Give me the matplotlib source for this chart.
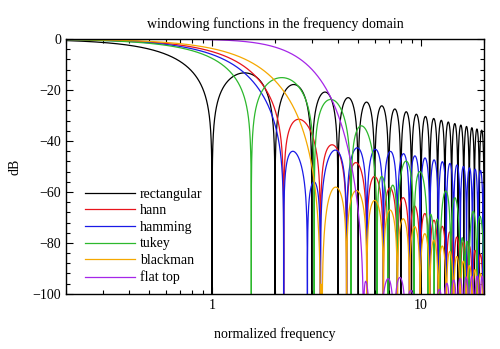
import numpy as np
import matplotlib
matplotlib.use("Agg")
import matplotlib.pyplot as plt
from matplotlib.ticker import MultipleLocator, FixedLocator, FixedFormatter, LogLocator, NullFormatter

plt.rcParams["font.family"] = ["Liberation Serif", "DejaVu Serif"]
plt.rcParams["font.size"] = 10

# windows shown in the chart
names = ["rectangular", "hann", "hamming", "tukey", "blackman", "flat top"]
colors = ["#000000", "#e8141c", "#1a1ae6", "#2db82d", "#f5a800", "#a526e8"]

# cosine-sum coefficients (centred window a0 + a1 cos(2 pi t) + a2 cos(4 pi t) ...)
coef_rect = [1.0]
coef_hann = [0.5, 0.5]
coef_hamming = [0.54, 0.46]
coef_blackman = [0.42, 0.5, 0.08]
coef_flattop = [0.21557895, 0.41663158, 0.277263158, 0.083578947, 0.006947368]
tukey_alpha = 0.5

# frequency stretch of each window
stretch = [1.0, 1.1, 1.1, 1.155, 1.1, 1.06]

freq = np.logspace(np.log10(0.2), np.log10(20), 6000)


def cosine_sum(coefs, f):
    w = coefs[0] * np.sinc(f)
    for k, a in enumerate(coefs[1:], start=1):
        w = w + a / 2 * (np.sinc(f - k) + np.sinc(f + k))
    return w / coefs[0]


def tukey(alpha, f):
    L = 1 - alpha / 2
    T = alpha / 2
    den = 1 - (2 * f * T) ** 2
    near = np.abs(den) < 1e-9
    p = np.where(near, np.pi / 4, np.cos(np.pi * f * T) / np.where(near, 1.0, den))
    return np.sinc(L * f) * p


def to_db(f, w):
    # add the exact zero crossings so the nulls drop off the bottom
    s = np.sign(w)
    idx = np.where(s[:-1] * s[1:] < 0)[0]
    fz = f[idx] - w[idx] * (f[idx + 1] - f[idx]) / (w[idx + 1] - w[idx])
    ff = np.concatenate([f, fz])
    dd = np.concatenate([20 * np.log10(np.abs(w) + 1e-300), np.full(len(fz), -300.0)])
    order = np.argsort(ff)
    return ff[order], dd[order]


responses = [
    cosine_sum(coef_rect, freq / stretch[0]),
    cosine_sum(coef_hann, freq / stretch[1]),
    cosine_sum(coef_hamming, freq / stretch[2]),
    tukey(tukey_alpha, freq / stretch[3]),
    cosine_sum(coef_blackman, freq / stretch[4]),
    cosine_sum(coef_flattop, freq / stretch[5]),
]

fig = plt.figure(figsize=(5.0, 3.49), dpi=100)
ax = fig.add_axes([0.132, 0.158, 0.836, 0.730])

for name, col, w in zip(names, colors, responses):
    ff, dd = to_db(freq, w)
    ax.plot(ff, dd, color=col, lw=0.9, label=name)

ax.set_xscale("log")
ax.set_xlim(0.2, 20)
ax.set_ylim(-100, 0)
ax.xaxis.set_major_locator(FixedLocator([1, 10]))
ax.xaxis.set_major_formatter(FixedFormatter(["1", "10"]))
ax.xaxis.set_minor_locator(LogLocator(base=10, subs=np.arange(2, 10)))
ax.xaxis.set_minor_formatter(NullFormatter())
ax.yaxis.set_major_locator(MultipleLocator(20))
ax.yaxis.set_minor_locator(MultipleLocator(4))
ax.tick_params(which="both", direction="in", top=True, right=True, width=0.8)
ax.tick_params(which="major", length=5, labelsize=10)
ax.tick_params(which="minor", length=3)
for sp in ax.spines.values():
    sp.set_linewidth(1.0)

ax.set_title("windowing functions in the frequency domain", fontsize=10, pad=8)
ax.set_xlabel("normalized frequency", fontsize=10, labelpad=11)
ax.set_ylabel("dB", fontsize=10, labelpad=8)

ax.legend(loc="lower left", bbox_to_anchor=(0.015, -0.012), frameon=False,
          handlelength=3.6, labelspacing=0.26, handletextpad=0.35, fontsize=10)

fig.savefig("out.png", dpi=100)
